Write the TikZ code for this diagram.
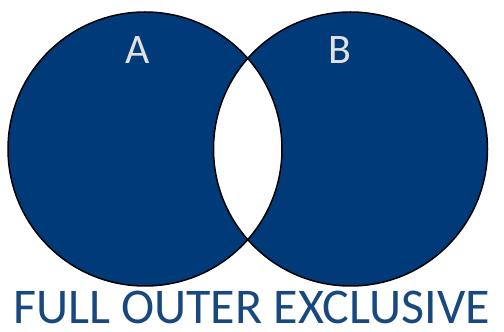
\documentclass[tikz,border=0pt]{standalone}
\usepackage{fontspec}
\setmainfont{Carlito}
\usepackage{xcolor}
\usetikzlibrary{positioning}

\definecolor{setblue}{RGB}{0,58,120}
\definecolor{titleblue}{RGB}{24,72,128}
\definecolor{lettergray}{RGB}{225,225,225}

\begin{document}
\begin{tikzpicture}[x=1pt, y=1pt,
  setfill/.style={fill=setblue, even odd rule},
  rim/.style={draw=black, line width=1.5pt},
  setname/.style={font=\fontsize{42}{42}\selectfont, text=lettergray, inner sep=0pt},
  caption/.style={font=\fontsize{50}{50}\selectfont, text=titleblue, inner sep=0pt, anchor=base}
]
\useasboundingbox (0,0) rectangle (504,332);

% Centres of the two sets
\coordinate (cA) at (145,183);
\coordinate (cB) at (350.5,183);

% Filled sets, overlap left white
\fill[setfill] (cA) circle (137) (cB) circle (137);
\draw[rim] (cA) circle (137);
\draw[rim] (cB) circle (137);

% Set names
\node[setname] (nameA) at (138,282) {A};
\node[setname] (nameB) at (340,282) {B};

% Caption
\node[caption] (title) at (251.5,8) {FULL OUTER EXCLUSIVE};

\end{tikzpicture}
\end{document}
